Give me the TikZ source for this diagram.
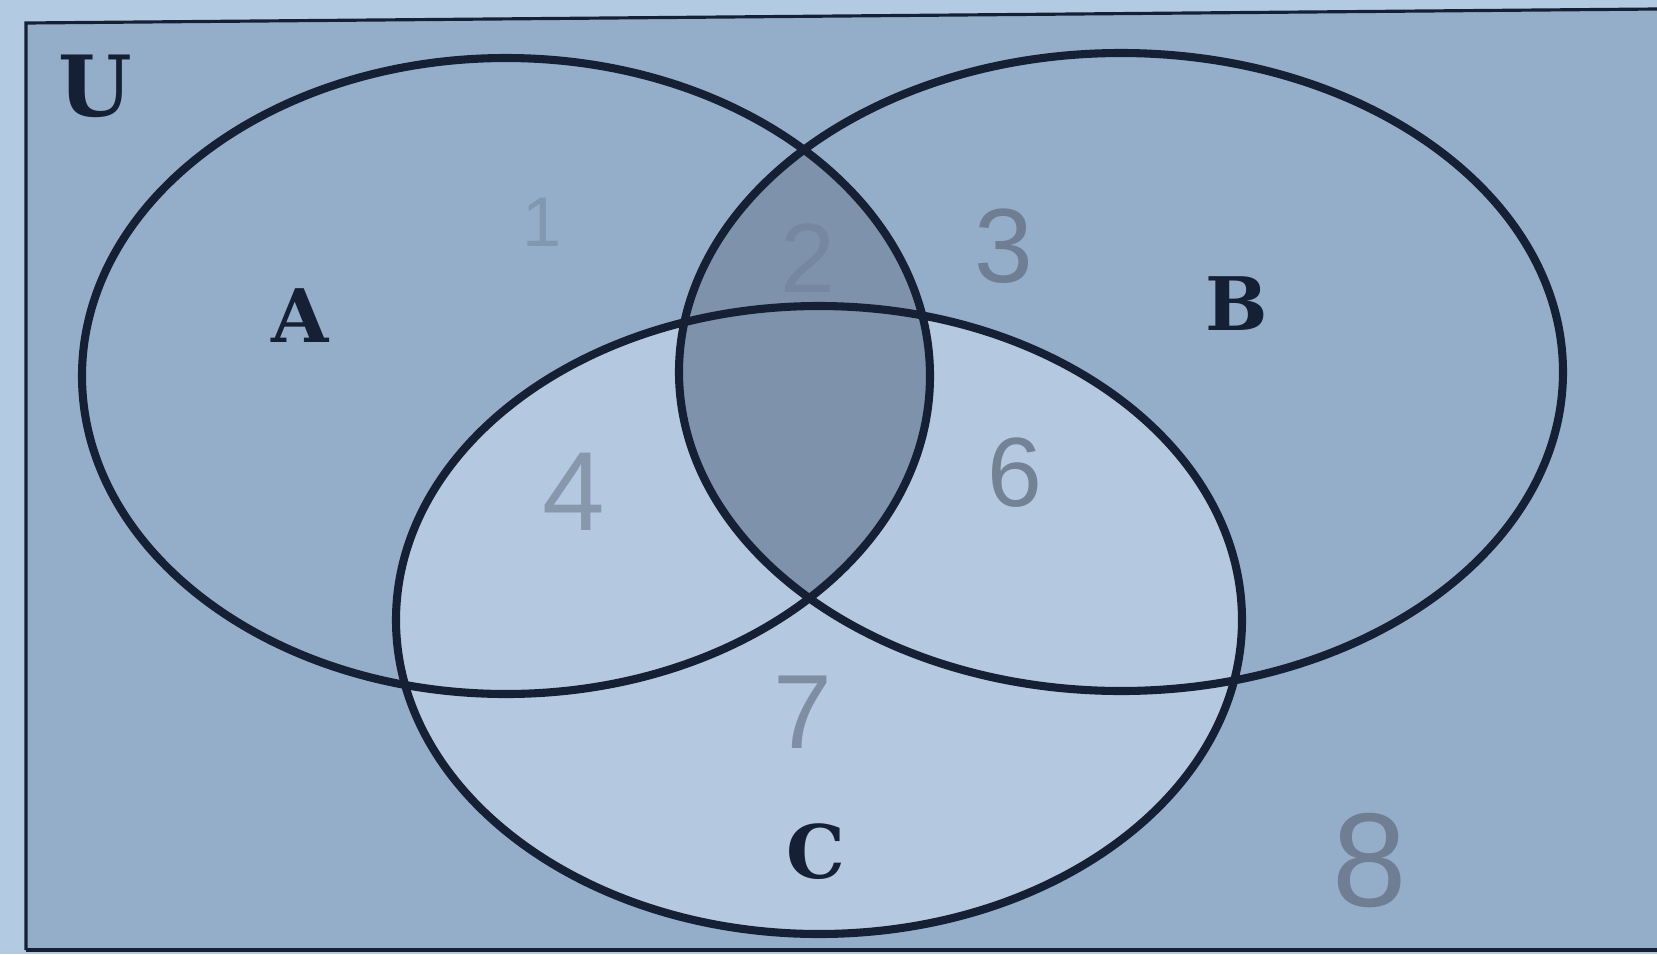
\documentclass[tikz,border=0pt]{standalone}
\usepackage{fontspec}
\setmainfont{Liberation Serif}
\newfontfamily\labfont{DejaVu Serif}
\newfontfamily\handfont{Liberation Sans}
\definecolor{paper}{RGB}{178,202,226}
\definecolor{shadeC}{RGB}{148,174,202}
\definecolor{lightC}{RGB}{180,201,224}
\definecolor{darkC}{RGB}{126,146,172}
\definecolor{ink}{RGB}{22,32,52}
\definecolor{pencil}{RGB}{105,118,138}
\tikzset{
  setline/.style={draw=ink, line width=2.3pt},
  frameline/.style={draw=ink, line width=0.9pt},
  setlabel/.style={font=\labfont\bfseries\fontsize{21}{21}\selectfont, text=ink, inner sep=0pt},
  numlabel/.style={font=\handfont, text=pencil, inner sep=0pt, opacity=0.85}
}
\begin{document}
\begin{tikzpicture}[x=0.01cm,y=-0.01cm]
\useasboundingbox (0,0) rectangle (1657,954);
\fill[paper] (0,0) rectangle (1657,954);
% universe frame
\coordinate (TL) at (26,23);
\coordinate (TR) at (1657,9);
\coordinate (BR) at (1657,950);
\coordinate (BL) at (26,950);
\fill[shadeC] (TL) -- (TR) -- (BR) -- (BL) -- cycle;
% set centres
\coordinate (cA) at (506,376);
\coordinate (cB) at (1121,372);
\coordinate (cC) at (819,620);
% C lighter
\fill[lightC] (cC) ellipse [x radius=423, y radius=314];
% A intersect B darker
\begin{scope}
  \clip (cA) ellipse [x radius=424, y radius=318];
  \fill[darkC] (cB) ellipse [x radius=442, y radius=319];
\end{scope}
% outlines
\draw[setline] (cA) ellipse [x radius=424, y radius=318];
\draw[setline] (cB) ellipse [x radius=442, y radius=319];
\draw[setline] (cC) ellipse [x radius=423, y radius=314];
\draw[frameline] (BL) -- (TL) -- (TR);
\draw[frameline] (BL) -- (BR);
% labels
\node[setlabel, font=\labfont\bfseries\fontsize{24}{24}\selectfont] (U) at (95,86) {U};
\node[setlabel] (A) at (300,316) {A};
\node[setlabel] (B) at (1237,304) {B};
\node[setlabel] (C) at (816,852) {C};
% pencil numbers
\node[numlabel, font=\handfont\fontsize{20}{20}\selectfont, opacity=0.4] (n1) at (542,222) {1};
\node[numlabel, font=\handfont\fontsize{28}{28}\selectfont, opacity=0.35] (n2) at (808,258) {2};
\node[numlabel, font=\handfont\fontsize{30}{30}\selectfont] (n3) at (1004,246) {3};
\node[numlabel, font=\handfont\fontsize{32}{32}\selectfont, opacity=0.6] (n4) at (574,492) {4};
\node[numlabel, font=\handfont\fontsize{28}{28}\selectfont] (n6) at (1015,473) {6};
\node[numlabel, font=\handfont\fontsize{30}{30}\selectfont, opacity=0.7] (n7) at (803,712) {7};
\node[numlabel, font=\handfont\fontsize{38}{38}\selectfont] (n8) at (1370,860) {8};
\end{tikzpicture}
\end{document}
